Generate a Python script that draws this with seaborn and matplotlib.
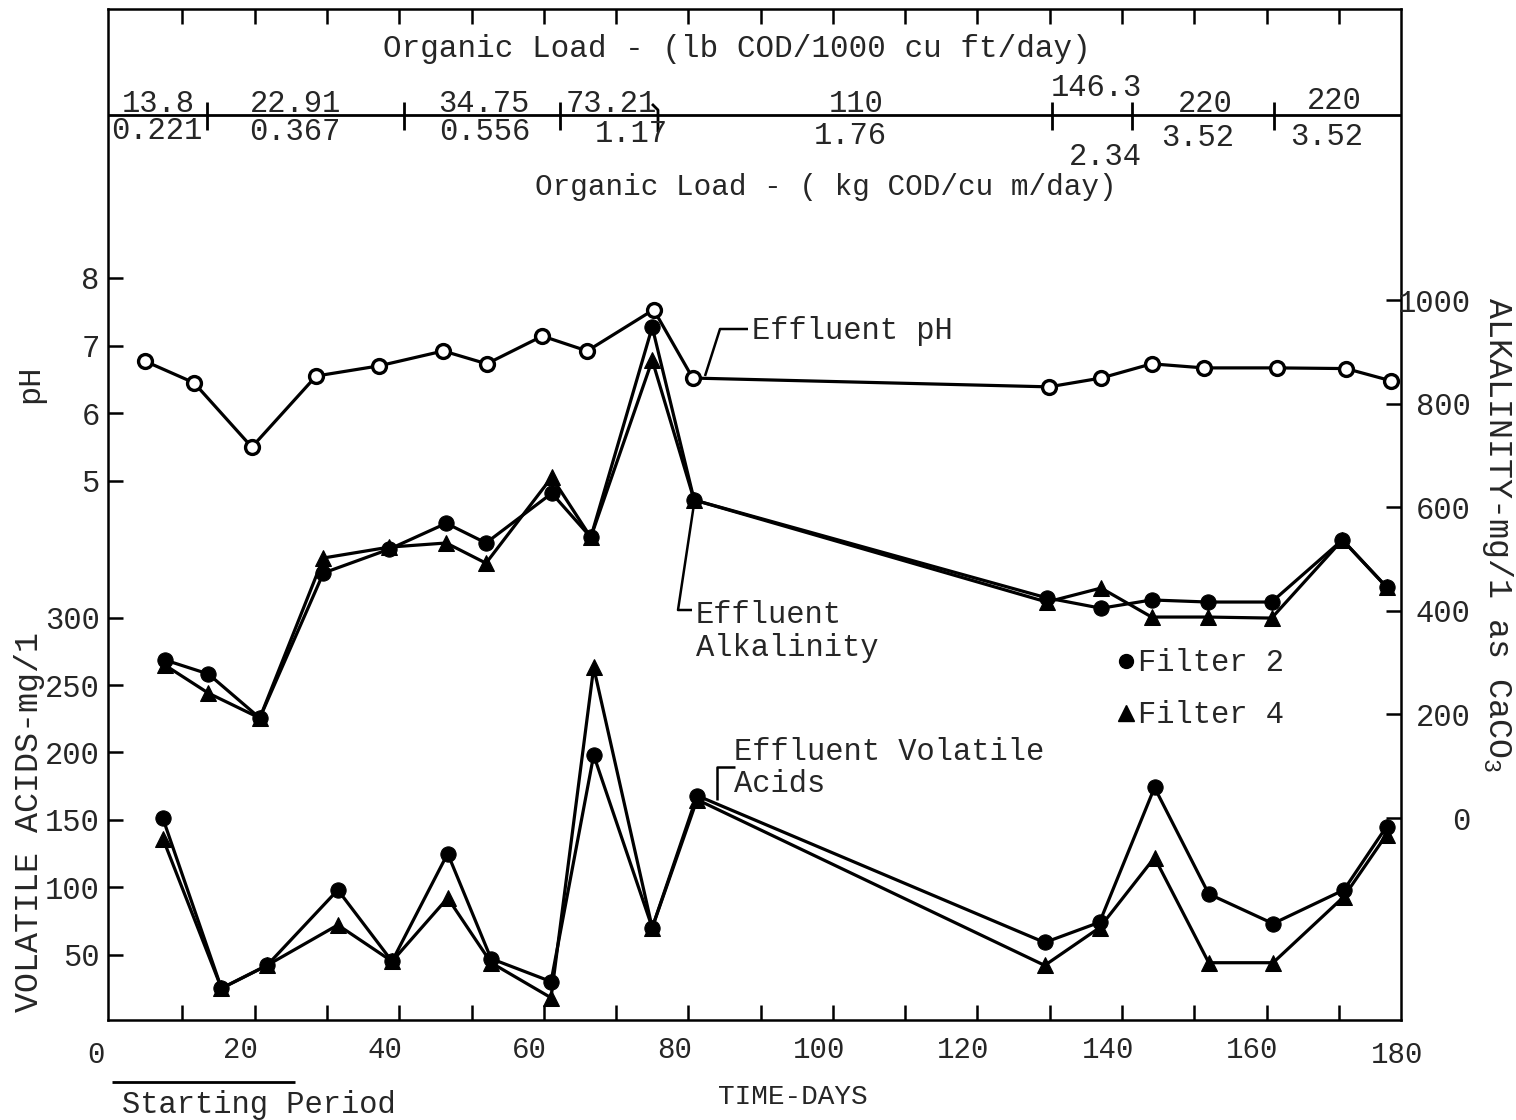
"""
Recreation of the filter pH / alkalinity / volatile-acids time-course figure.
Writes out.png (1516x1120).
"""
import matplotlib
matplotlib.use("Agg")
import matplotlib.pyplot as plt
from matplotlib.lines import Line2D
import seaborn as sns

sns.set_theme(style="ticks")
plt.rcParams["font.family"] = ["Liberation Mono", "DejaVu Sans Mono"]
plt.rcParams["mathtext.fontset"] = "custom"
plt.rcParams["mathtext.rm"] = "Liberation Mono"
plt.rcParams["mathtext.it"] = "Liberation Mono"

W, H = 1516, 1120

# ---- data ----
ph_day = [4.8, 11.6, 19.6, 28.5, 37.2, 46.1, 52.1, 59.8, 66.0, 75.2, 80.6,
          129.9, 137.1, 144.1, 151.3, 161.4, 171.0, 177.2]
ph_val = [6.77, 6.45, 5.50, 6.55, 6.70, 6.92, 6.73, 7.14, 6.92, 7.53, 6.52,
          6.39, 6.52, 6.73, 6.67, 6.67, 6.66, 6.48]

alk_day = [7.6, 13.6, 20.7, 29.5, 38.6, 46.5, 52.0, 61.1, 66.5, 75.0, 80.8,
           129.6, 137.1, 144.1, 151.9, 160.7, 170.5, 176.6]
alk_f2 = [305, 278, 193, 473, 519, 569, 531, 627, 542, 948, 614,
          425, 405, 421, 417, 417, 537, 446]
alk_f4 = [295, 241, 193, 502, 523, 531, 492, 658, 542, 884, 614,
          417, 444, 388, 388, 386, 537, 446]

va_day = [7.3, 15.4, 21.7, 31.5, 39.0, 46.7, 52.7, 61.0, 66.9, 75.0, 81.2,
          129.3, 136.9, 144.5, 152.0, 160.9, 170.7, 176.6]
va_f2 = [151, 25, 42, 98, 45, 125, 47, 30, 198, 70, 168,
         59, 74, 174, 95, 73, 98, 145]
va_f4 = [136, 25, 42, 72, 45, 92, 44, 18, 263, 70, 165,
         42, 70, 122, 44, 44, 93, 139]

day_ticks = list(range(10, 180, 10))
day_labels = list(range(0, 200, 20))
ph_ticks = [5, 6, 7, 8]
va_ticks = [50, 100, 150, 200, 250, 300]
alk_ticks = [0, 200, 400, 600, 800, 1000]

lb_loads = ["13.8", "22.91", "34.75", "73.21", "110", "146.3", "220", "220"]
kg_loads = ["0.221", "0.367", "0.556", "1.17", "1.76", "2.34", "3.52", "3.52"]


def P(x, y):
    """pixel position -> figure fraction"""
    return x / W, 1 - y / H


def seg(fig, pts, lw=1.8):
    xs = [p[0] / W for p in pts]
    ys = [1 - p[1] / H for p in pts]
    fig.add_artist(Line2D(xs, ys, transform=fig.transFigure, color="black",
                          lw=lw, solid_capstyle="butt"))


fig = plt.figure(figsize=(W / 100, H / 100), dpi=100)
x0, x1, ytop, ybot = 108, 1401, 9, 1020
ax = fig.add_axes([x0 / W, 1 - ybot / H, (x1 - x0) / W, (ybot - ytop) / H])
ax_ph = ax.twinx()
ax_alk = ax.twinx()

ax.set_xlim(-0.3, 178.6)
ax.set_ylim(1.5, 751.5)            # volatile acids, mg/l
ax_ph.set_ylim(-2.96, 11.97)       # pH
ax_alk.set_ylim(-390, 1562)        # alkalinity, mg/l CaCO3

line_kw = dict(color="black", lw=2.3, sort=False, estimator=None,
               markeredgecolor="black", legend=False)

sns.lineplot(x=ph_day, y=ph_val, ax=ax_ph, marker="o", markersize=10,
             markerfacecolor="white", markeredgewidth=2.4, **line_kw)
sns.lineplot(x=alk_day, y=alk_f2, ax=ax_alk, marker="o", markersize=11,
             markerfacecolor="black", **line_kw)
sns.lineplot(x=alk_day, y=alk_f4, ax=ax_alk, marker="^", markersize=12,
             markerfacecolor="black", **line_kw)
sns.lineplot(x=va_day, y=va_f2, ax=ax, marker="o", markersize=11,
             markerfacecolor="black", **line_kw)
sns.lineplot(x=va_day, y=va_f4, ax=ax, marker="^", markersize=12,
             markerfacecolor="black", **line_kw)

# frame + ticks
for s in ax.spines.values():
    s.set_visible(True)
    s.set_linewidth(1.8)
    s.set_color("black")
for a in (ax_ph, ax_alk):
    for s in a.spines.values():
        s.set_visible(False)
    a.patch.set_visible(False)
    a.set_ylabel("")
ax.set_ylabel("")
ax.set_xlabel("")

ax.set_xticks(day_ticks)
ax.tick_params(axis="x", direction="in", length=11, width=1.8, top=True,
               bottom=True, labelbottom=False, labeltop=False, color="black")
ax.set_yticks(va_ticks)
ax.tick_params(axis="y", direction="in", length=11, width=1.8, pad=6,
               labelsize=22, left=True, right=False, color="black")

ax_ph.set_yticks(ph_ticks)
ax_ph.yaxis.set_ticks_position("left")
ax_ph.tick_params(axis="y", direction="in", length=11, width=1.8, pad=6,
                  labelsize=22, left=True, right=False, labelleft=True,
                  labelright=False, color="black")

ax_alk.set_yticks(alk_ticks)
ax_alk.tick_params(axis="y", direction="in", length=11, width=1.8, pad=50,
                   labelsize=22, color="black")
for lbl in ax_alk.get_yticklabels():
    lbl.set_horizontalalignment("right")

ax.grid(False); ax_ph.grid(False); ax_alk.grid(False)

# bottom day labels (sit a little left of their ticks in the original)
for d in day_labels:
    xp = x0 + (d + 0.3) * (x1 - x0) / 178.9 - 14
    fig.text(*P(xp, 1055 if d in (0, 180) else 1050), str(d),
             ha="center", va="center", fontsize=21)

# axis titles
fig.text(*P(30, 384), "pH", rotation=90, ha="center", va="center", fontsize=23)
fig.text(*P(30, 822), "VOLATILE ACIDS-mg/1", rotation=90, ha="center",
         va="center", fontsize=24)
fig.text(*P(1497, 535), "ALKALINITY-mg/1 as CaCO$_3$", rotation=270,
         ha="center", va="center", fontsize=24)
fig.text(*P(793, 1097), "TIME-DAYS", ha="center", va="center", fontsize=20)
fig.text(*P(122, 1105), "Starting Period", ha="left", va="center", fontsize=22)
seg(fig, [(112, 1082), (295, 1082)], lw=2.0)

# organic load scale at the top
seg(fig, [(108, 115), (1401, 115)], lw=2.0)
for xs in (207, 404, 560, 1052, 1132, 1274):
    seg(fig, [(xs, 102), (xs, 130)], lw=2.0)
seg(fig, [(652, 104), (658, 110), (658, 132)], lw=2.0)

lb_pos = [(158, 104), (295, 104), (484, 104), (611, 104), (856, 104),
          (1096, 88), (1205, 104), (1334, 101)]
kg_pos = [(157, 131), (295, 132), (485, 132), (631, 134), (850, 136),
          (1105, 157), (1198, 138), (1327, 137)]
for s, (xp, yp) in zip(lb_loads, lb_pos):
    fig.text(*P(xp, yp), s, ha="center", va="center", fontsize=22)
for s, (xp, yp) in zip(kg_loads, kg_pos):
    fig.text(*P(xp, yp), s, ha="center", va="center", fontsize=22)
fig.text(*P(383, 49), "Organic Load - (lb COD/1000 cu ft/day)",
         ha="left", va="center", fontsize=22.3)
fig.text(*P(535, 187), "Organic Load - ( kg COD/cu m/day)",
         ha="left", va="center", fontsize=21.2)

# curve annotations with leaders
seg(fig, [(705, 376), (720, 329), (748, 329)], lw=1.8)
fig.text(*P(752, 331), "Effluent pH", ha="left", va="center", fontsize=22)
seg(fig, [(694, 504), (678, 610), (692, 610)], lw=1.8)
fig.text(*P(696, 615), "Effluent", ha="left", va="center", fontsize=22)
fig.text(*P(696, 648), "Alkalinity", ha="left", va="center", fontsize=22)
seg(fig, [(735, 767), (717, 767), (717, 800)], lw=1.8)
fig.text(*P(734, 752), "Effluent Volatile", ha="left", va="center", fontsize=22)
fig.text(*P(734, 784), "Acids", ha="left", va="center", fontsize=22)

# legend
fig.add_artist(Line2D([1126 / W], [1 - 661 / H], transform=fig.transFigure,
                      marker="o", markersize=10, color="black", ls="none"))
fig.text(*P(1138, 663), "Filter 2", ha="left", va="center", fontsize=22)
fig.add_artist(Line2D([1126 / W], [1 - 713 / H], transform=fig.transFigure,
                      marker="^", markersize=11, color="black", ls="none"))
fig.text(*P(1138, 715), "Filter 4", ha="left", va="center", fontsize=22)

fig.savefig("out.png", dpi=100, facecolor="white")
